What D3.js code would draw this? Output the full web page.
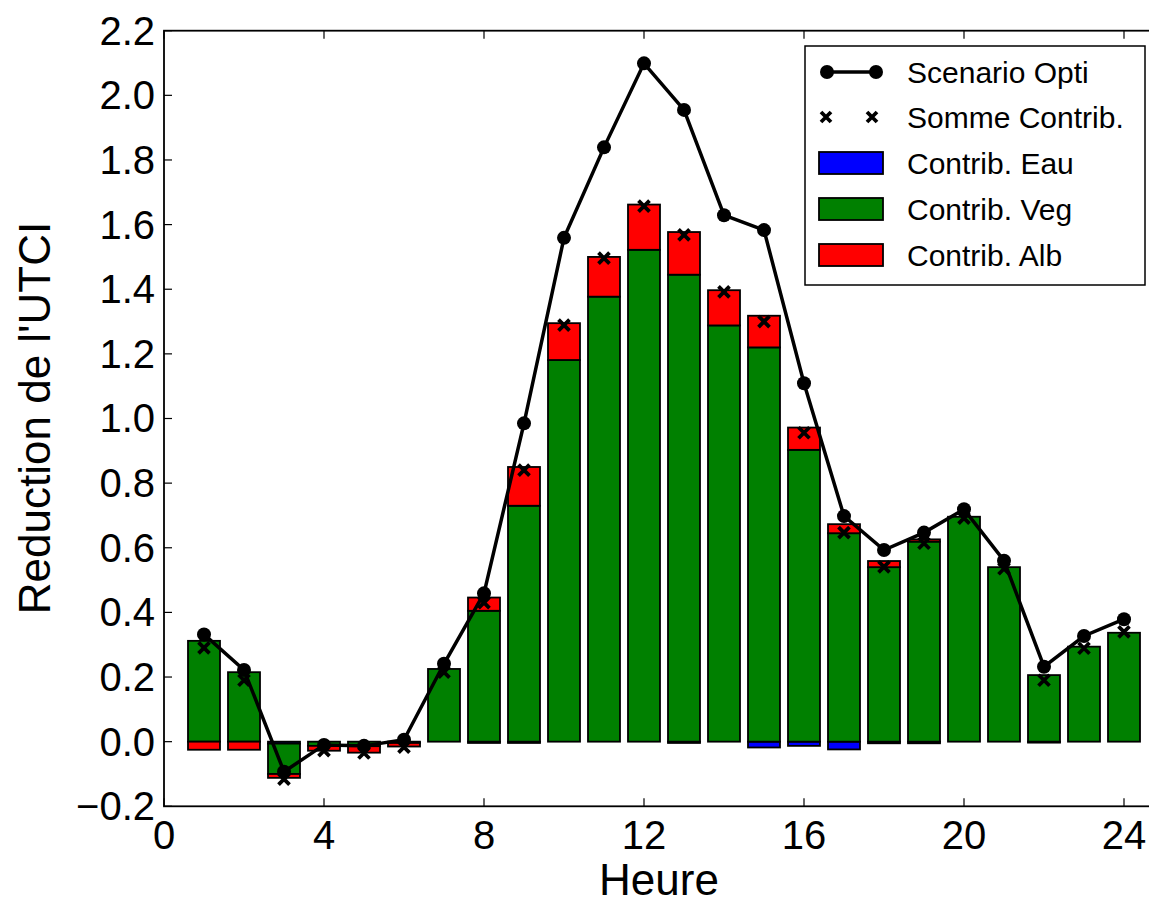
<!DOCTYPE html>
<html>
<head>
<meta charset="utf-8">
<script src="https://cdn.jsdelivr.net/npm/d3@7"></script>
<style>
  body { margin: 0; background: #fff; }
  text { font-family: "Liberation Sans", Arial, sans-serif; fill: #000; }
</style>
</head>
<body>
<script>
// values
const hours = [1,2,3,4,5,6,7,8,9,10,11,12,13,14,15,16,17,18,19,20,21,22,23,24]
const contribEau = [0, 0, -0.006, 0, 0, 0, 0, -0.004, -0.004, 0, 0, 0, -0.004, 0, -0.018, -0.013, -0.024, -0.005, -0.005, 0, 0, -0.003, 0, 0]
const contribVeg = [0.312, 0.215, -0.094, -0.013, -0.014, -0.004, 0.225, 0.405, 0.73, 1.181, 1.377, 1.522, 1.445, 1.288, 1.22, 0.903, 0.645, 0.54, 0.619, 0.696, 0.54, 0.206, 0.294, 0.337]
const contribAlb = [-0.025, -0.025, -0.012, -0.015, -0.02, -0.011, 0, 0.041, 0.12, 0.114, 0.123, 0.14, 0.132, 0.109, 0.098, 0.069, 0.028, 0.019, 0.007, 0, 0, 0, 0, 0]
const scenarioOpti = [0.332, 0.222, -0.093, -0.01, -0.013, 0.006, 0.241, 0.459, 0.985, 1.559, 1.839, 2.099, 1.955, 1.629, 1.583, 1.109, 0.698, 0.593, 0.647, 0.719, 0.56, 0.232, 0.327, 0.379]
const sommeContrib = [0.29, 0.19, -0.116, -0.028, -0.035, -0.017, 0.215, 0.43, 0.84, 1.289, 1.496, 1.657, 1.568, 1.392, 1.3, 0.956, 0.647, 0.541, 0.614, 0.692, 0.535, 0.19, 0.289, 0.34]
const xTicks = [0, 4, 8, 12, 16, 20, 24]
const yTicks = [-0.2, 0, 0.2, 0.4, 0.6, 0.8, 1.0, 1.2, 1.4, 1.6, 1.8, 2.0, 2.2]

const keys = ["Eau", "Veg", "Alb"]
const colors = {Eau: "#0000ff", Veg: "#008000", Alb: "#ff0000"}

const W = 1149, H = 903
const margin = {top: 30.7, left: 164},
    width = 1000,
    height = 806.3 - margin.top

const svg = d3.select("body")
  .append("svg")
    .attr("width", W)
    .attr("height", H)
  .append("g")
    .attr("transform", `translate(${margin.left},${margin.top})`)

const x = d3.scaleLinear().domain([0, 25]).range([0, width])
const y = d3.scaleLinear().domain([-0.2, 2.2]).range([height, 0])

const rows = hours.map((h, i) => ({hour: h, Eau: contribEau[i], Veg: contribVeg[i], Alb: contribAlb[i]}))
const stacked = d3.stack().keys(keys).offset(d3.stackOffsetDiverging)(rows)

// bars
svg.append("g")
  .selectAll("g")
  .data(stacked)
  .join("g")
    .attr("fill", d => colors[d.key])
  .selectAll("rect")
  .data(d => d.filter(s => s[1] !== s[0]))
  .join("rect")
    .attr("x", d => x(d.data.hour - 0.4))
    .attr("width", x(0.8) - x(0))
    .attr("y", d => y(Math.max(d[0], d[1])))
    .attr("height", d => Math.abs(y(d[0]) - y(d[1])))
    .attr("stroke", "#000")
    .attr("stroke-width", 1.8)

// scenario line + circles
const line = d3.line().x((d, i) => x(hours[i])).y(d => y(d))
svg.append("path")
  .datum(scenarioOpti)
  .attr("d", line)
  .attr("fill", "none")
  .attr("stroke", "#000")
  .attr("stroke-width", 3.5)
svg.append("g").selectAll("circle")
  .data(scenarioOpti)
  .join("circle")
    .attr("cx", (d, i) => x(hours[i]))
    .attr("cy", d => y(d))
    .attr("r", 7)
    .attr("fill", "#000")

// somme contrib crosses
const cross = (g, cx, cy, s) => g.append("path")
  .attr("d", `M${cx-s},${cy-s}L${cx+s},${cy+s}M${cx-s},${cy+s}L${cx+s},${cy-s}`)
  .attr("stroke", "#000").attr("stroke-width", 3.8).attr("fill", "none")
const crossG = svg.append("g")
sommeContrib.forEach((v, i) => cross(crossG, x(hours[i]), y(v), 5.5))

// frame
svg.append("rect")
  .attr("width", width).attr("height", height)
  .attr("fill", "none").attr("stroke", "#000").attr("stroke-width", 1.8)

// ticks inside, on all four sides
const tl = 8
const tk = svg.append("g").attr("stroke", "#000").attr("stroke-width", 1.2)
xTicks.forEach(t => {
  tk.append("line").attr("x1", x(t)).attr("x2", x(t)).attr("y1", height).attr("y2", height - tl)
  tk.append("line").attr("x1", x(t)).attr("x2", x(t)).attr("y1", 0).attr("y2", tl)
})
yTicks.forEach(t => {
  tk.append("line").attr("x1", 0).attr("x2", tl).attr("y1", y(t)).attr("y2", y(t))
  tk.append("line").attr("x1", width).attr("x2", width - tl).attr("y1", y(t)).attr("y2", y(t))
})

// tick labels
svg.append("g").selectAll("text")
  .data(xTicks)
  .join("text")
    .attr("x", d => x(d))
    .attr("y", height + 43)
    .attr("text-anchor", "middle")
    .style("font-size", "40px")
    .text(d => d)
const fmt = d3.format(".1f")
svg.append("g").selectAll("text")
  .data(yTicks)
  .join("text")
    .attr("x", -9)
    .attr("y", d => y(d) + 14)
    .attr("text-anchor", "end")
    .style("font-size", "40px")
    .text(d => fmt(d))

// axis titles
svg.append("text")
  .attr("x", 659 - margin.left)
  .attr("y", 895 - margin.top)
  .attr("text-anchor", "middle")
  .style("font-size", "44px")
  .text("Heure")
svg.append("text")
  .attr("transform", `translate(${50 - margin.left},${418 - margin.top}) rotate(-90)`)
  .attr("text-anchor", "middle")
  .style("font-size", "44px")
  .text("Reduction de l'UTCI")

// legend
const lg = d3.select("svg").append("g")
lg.append("rect")
  .attr("x", 805).attr("y", 46).attr("width", 340).attr("height", 239)
  .attr("fill", "#fff").attr("stroke", "#000").attr("stroke-width", 1.5)
const rowY = [72, 117, 163, 209, 255]
const labels = ["Scenario Opti", "Somme Contrib.", "Contrib. Eau", "Contrib. Veg", "Contrib. Alb"]
lg.append("line").attr("x1", 827).attr("x2", 876).attr("y1", rowY[0]).attr("y2", rowY[0])
  .attr("stroke", "#000").attr("stroke-width", 3.5)
;[827, 876].forEach(cx => lg.append("circle").attr("cx", cx).attr("cy", rowY[0]).attr("r", 7).attr("fill", "#000"))
;[826, 872].forEach(cx => cross(lg, cx, rowY[1], 5))
keys.forEach((k, i) => {
  lg.append("rect")
    .attr("x", 819).attr("y", rowY[i + 2] - 11).attr("width", 64).attr("height", 22)
    .attr("fill", colors[k]).attr("stroke", "#000").attr("stroke-width", 1.8)
})
lg.selectAll("text.lbl")
  .data(labels)
  .join("text")
    .attr("class", "lbl")
    .attr("x", 907)
    .attr("y", (d, i) => rowY[i] + 10.5)
    .style("font-size", "30px")
    .text(d => d)
</script>
</body>
</html>
